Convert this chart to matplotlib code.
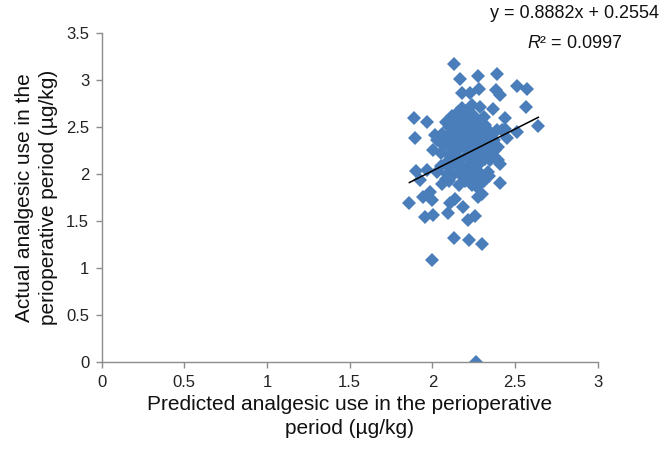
import matplotlib.pyplot as plt
import numpy as np

plt.rcParams["font.family"] = ["Liberation Sans", "DejaVu Sans"]
plt.rcParams["mathtext.fontset"] = "custom"
plt.rcParams["mathtext.it"] = "Liberation Sans:italic"
plt.rcParams["mathtext.rm"] = "Liberation Sans"

# predicted (x) vs actual (y) analgesic use
predicted = [
    2.131, 2.168, 2.279, 2.39, 2.178, 2.228, 2.283, 2.385, 2.41, 2.51,
    2.575, 2.565, 2.238, 2.289, 2.365, 2.44, 2.641, 2.51, 2.454, 1.889,
    1.97, 1.895, 2.083, 2.157, 2.016, 2.41, 2.41, 2.40, 2.339, 1.90,
    1.861, 1.946, 1.996, 1.956, 2.002, 2.097, 2.107, 2.137, 2.188, 2.218,
    2.258, 2.278, 2.298, 2.133, 2.224, 2.299, 2.00, 2.264, 2.057, 1.986,
    1.925, 2.349, 2.40, 2.329, 2.006, 2.027, 2.42, 2.117, 2.027, 1.966,
    2.10, 2.13, 2.16, 2.20, 2.23, 2.27, 2.30, 2.25, 2.21, 2.17,
    2.13, 2.09, 2.06, 2.12, 2.15, 2.19, 2.23, 2.26, 2.31, 2.34,
    2.36, 2.33, 2.29, 2.25, 2.21, 2.17, 2.14, 2.10, 2.08, 2.11,
    2.15, 2.19, 2.22, 2.26, 2.29, 2.32, 2.35, 2.38, 2.37, 2.35,
    2.07, 2.05, 2.09, 2.12, 2.16, 2.19, 2.23, 2.26, 2.29, 2.24,
    2.20, 2.16, 2.10, 2.27, 2.31, 2.34, 2.19, 2.15, 2.25, 2.27,
    2.12, 2.09, 2.22, 2.18, 2.31, 2.17, 2.20, 2.28, 2.14, 2.24,
    2.39, 2.44, 2.32, 2.05, 2.08,
    2.18, 2.22, 2.26, 2.30, 2.14, 2.18, 2.24, 2.28, 2.20, 2.16,
    2.12, 2.27, 2.33, 2.21, 2.25,
]
actual = [
    3.17, 3.01, 3.04, 3.06, 2.855, 2.855, 2.90, 2.89, 2.84, 2.93,
    2.90, 2.71, 2.73, 2.71, 2.685, 2.59, 2.51, 2.45, 2.385, 2.59,
    2.555, 2.385, 2.555, 2.66, 2.41, 2.11, 1.90, 2.15, 2.02, 2.03,
    1.69, 1.76, 1.72, 1.545, 1.565, 1.58, 1.69, 1.73, 1.65, 1.51,
    1.55, 1.76, 1.79, 1.316, 1.298, 1.256, 1.086, 0.00, 1.89, 1.81,
    1.935, 2.15, 2.29, 1.97, 2.25, 2.36, 2.466, 2.61, 2.02, 2.04,
    2.50, 2.45, 2.52, 2.48, 2.55, 2.50, 2.44, 2.40, 2.36, 2.38,
    2.33, 2.36, 2.42, 2.28, 2.24, 2.30, 2.27, 2.32, 2.36, 2.40,
    2.30, 2.26, 2.22, 2.18, 2.20, 2.15, 2.18, 2.20, 2.12, 2.08,
    2.10, 2.05, 2.10, 2.06, 2.12, 2.16, 2.20, 2.25, 2.36, 2.45,
    2.30, 2.22, 2.00, 1.98, 2.02, 1.96, 2.00, 1.95, 1.98, 1.88,
    1.92, 1.88, 1.92, 1.86, 1.93, 1.98, 2.58, 2.62, 2.62, 2.55,
    2.58, 2.54, 2.66, 2.70, 2.60, 2.30, 2.42, 2.28, 2.40, 2.45,
    2.47, 2.48, 2.52, 2.08, 1.95,
    2.34, 2.25, 2.23, 2.40, 2.50, 2.44, 2.14, 2.38, 2.01, 2.27,
    2.44, 2.04, 2.31, 2.53, 2.35,
]

# trendline shown on the chart
slope = 0.8882
intercept = 0.2554
r_squared = 0.0997

fig = plt.figure(figsize=(6.66, 4.55), dpi=100)
ax = fig.add_axes([0.1527, 0.2037, 0.7447, 0.7246])

ax.plot(predicted, actual, linestyle="none", marker="D", markersize=7,
        color="#4a7ebb", markeredgewidth=0)

x_line = np.array([min(predicted), max(predicted)])
ax.plot(x_line, slope * x_line + intercept, color="black", linewidth=1.1)

ax.set_xlim(0, 3)
ax.set_ylim(0, 3.5)
ax.set_xticks([0, 0.5, 1, 1.5, 2, 2.5, 3])
ax.set_xticklabels(["0", "0.5", "1", "1.5", "2", "2.5", "3"])
ax.set_yticks([0, 0.5, 1, 1.5, 2, 2.5, 3, 3.5])
ax.set_yticklabels(["0", "0.5", "1", "1.5", "2", "2.5", "3", "3.5"])

for side in ["top", "right"]:
    ax.spines[side].set_visible(False)
for side in ["left", "bottom"]:
    ax.spines[side].set_color("#8c8c8c")
    ax.spines[side].set_linewidth(1.0)
ax.tick_params(direction="out", length=4, width=1.0, color="#8c8c8c",
               labelsize=12, labelcolor="#222222", pad=5)

ax.set_xlabel("Predicted analgesic use in the perioperative\nperiod (µg/kg)",
              fontsize=15, color="#111111", labelpad=4, linespacing=1.3)
ax.set_ylabel("Actual analgesic use in the\nperioperative period (µg/kg)",
              fontsize=15, color="#111111", labelpad=6, linespacing=1.3)

fig.text(575 / 666, 1 - 14 / 455,
         "y = %.4fx + %.4f" % (slope, intercept),
         ha="center", va="center", fontsize=13, color="#111111")
fig.text(575 / 666, 1 - 43 / 455, r"$R$² = %.4f" % r_squared,
         ha="center", va="center", fontsize=13, color="#111111")

plt.savefig("out.png", dpi=100)
